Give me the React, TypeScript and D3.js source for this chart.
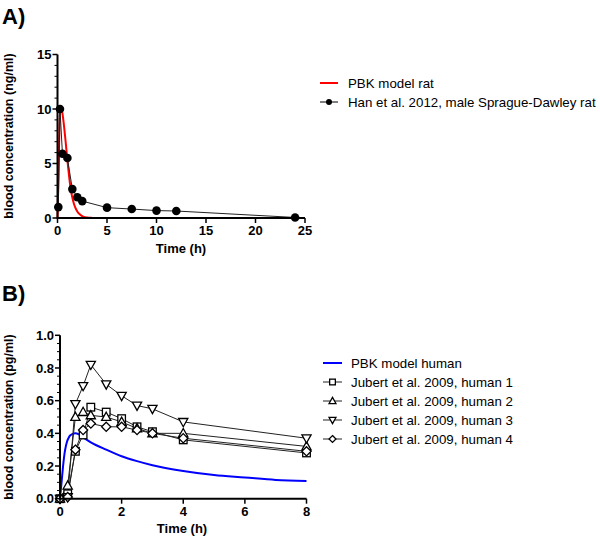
import React from "react";
import * as d3 from "d3";

// ---------- Panel A data ----------
const ratTime = [0.083, 0.25, 0.5, 1, 1.5, 2, 2.5, 5, 7.5, 10, 12, 24];
const ratConc = [1.0, 10.0, 5.9, 5.5, 2.65, 1.9, 1.55, 0.95, 0.82, 0.68, 0.64, 0.05];
const modelRatTime = [0, 0.1, 0.2, 0.3, 0.4, 0.5, 0.6, 0.8, 1.0, 1.2, 1.4, 1.6, 1.8, 2.0, 2.3, 2.6, 3.0, 3.5, 4, 25];
const modelRatConc = [0, 4, 8.5, 10, 10, 9.6, 8.9, 7.2, 5.3, 3.6, 2.3, 1.5, 0.95, 0.6, 0.3, 0.12, 0.04, 0.01, 0, 0];
const ticksA_x = [0, 5, 10, 15, 20, 25];
const ticksA_y = [0, 5, 10, 15];

// ---------- Panel B data ----------
const humanTime = [0, 0.25, 0.5, 0.75, 1, 1.5, 2, 2.5, 3, 4, 8];
const human1 = [0, 0.03, 0.29, 0.39, 0.56, 0.53, 0.49, 0.44, 0.41, 0.36, 0.28];
const human2 = [0, 0.08, 0.50, 0.53, 0.51, 0.50, 0.47, 0.43, 0.40, 0.40, 0.32];
const human3 = [0, 0.01, 0.58, 0.69, 0.82, 0.70, 0.63, 0.57, 0.55, 0.47, 0.37];
const human4 = [0, 0.01, 0.30, 0.42, 0.46, 0.44, 0.44, 0.42, 0.40, 0.37, 0.29];
const modelHumanTime = [0, 0.05, 0.1, 0.15, 0.2, 0.3, 0.4, 0.5, 0.6, 0.75, 1, 1.5, 2, 2.5, 3, 4, 5, 6, 7, 8];
const modelHumanConc = [0, 0.1, 0.2, 0.28, 0.33, 0.38, 0.395, 0.40, 0.395, 0.375, 0.345, 0.30, 0.26, 0.23, 0.205, 0.17, 0.145, 0.13, 0.115, 0.108];
const ticksB_x = [0, 2, 4, 6, 8];
const ticksB_y = [0, 0.2, 0.4, 0.6, 0.8, 1.0];
const ticksB_yLabels = ["0.0", "0.2", "0.4", "0.6", "0.8", "1.0"];

const legendA = ["PBK model rat", "Han et al. 2012, male Sprague-Dawley rat"];
const legendB = [
  "PBK model human",
  "Jubert et al. 2009, human 1",
  "Jubert et al. 2009, human 2",
  "Jubert et al. 2009, human 3",
  "Jubert et al. 2009, human 4",
];

const FONT = "Liberation Sans, Arial, sans-serif";

type Shape = "square" | "up" | "down" | "diamond";

function Marker({ x, y, shape, k = 1 }: { x: number; y: number; shape: Shape; k?: number }) {
  const s = 4.2 * k;
  const common = { fill: "white", stroke: "black", strokeWidth: 1.3 };
  if (shape === "square")
    return <rect x={x - 3.8 * k} y={y - 3.8 * k} width={7.6 * k} height={7.6 * k} {...common} />;
  if (shape === "up")
    return <path d={`M${x},${y - s - 0.6 * k}L${x + s + 0.4 * k},${y + s - 0.8 * k}L${x - s - 0.4 * k},${y + s - 0.8 * k}Z`} {...common} />;
  if (shape === "down")
    return <path d={`M${x},${y + s + 0.6 * k}L${x + s + 0.4 * k},${y - s + 0.8 * k}L${x - s - 0.4 * k},${y - s + 0.8 * k}Z`} {...common} />;
  return <path d={`M${x},${y - s - 0.4 * k}L${x + s + 0.4 * k},${y}L${x},${y + s + 0.4 * k}L${x - s - 0.4 * k},${y}Z`} {...common} />;
}

export default function App() {
  // Panel A scales
  const xA = d3.scaleLinear().domain([0, 25]).range([57.5, 305]);
  const yA = d3.scaleLinear().domain([0, 15]).range([218, 54.5]);
  // Panel B scales
  const xB = d3.scaleLinear().domain([0, 8]).range([60, 306.5]);
  const yB = d3.scaleLinear().domain([0, 1]).range([498.7, 335.3]);

  const lineA = d3
    .line<[number, number]>()
    .x((d) => xA(d[0]))
    .y((d) => yA(d[1]));
  const curveA = d3
    .line<[number, number]>()
    .x((d) => xA(d[0]))
    .y((d) => yA(d[1]))
    .curve(d3.curveMonotoneX);
  const lineB = d3
    .line<[number, number]>()
    .x((d) => xB(d[0]))
    .y((d) => yB(d[1]));
  const curveB = d3
    .line<[number, number]>()
    .x((d) => xB(d[0]))
    .y((d) => yB(d[1]))
    .curve(d3.curveMonotoneX);

  const ratPts = ratTime.map((t, i) => [t, ratConc[i]] as [number, number]);
  const modelRatPts = modelRatTime.map((t, i) => [t, modelRatConc[i]] as [number, number]);
  const modelHumanPts = modelHumanTime.map((t, i) => [t, modelHumanConc[i]] as [number, number]);
  const humans: { vals: number[]; shape: Shape }[] = [
    { vals: human1, shape: "square" },
    { vals: human2, shape: "up" },
    { vals: human3, shape: "down" },
    { vals: human4, shape: "diamond" },
  ];

  const minorA = d3.range(0, 16, 1).filter((v) => v % 5 !== 0);
  const minorB = d3.range(0, 1.0001, 0.05).filter((v) => Math.abs(v * 5 - Math.round(v * 5)) > 1e-6);

  const axisW = 2;

  return (
    <svg
      width={600}
      height={539}
      style={{ position: "absolute", left: 0, top: 0, background: "white" }}
      fontFamily={FONT}
    >
      <rect x={0} y={0} width={600} height={539} fill="white" />
      {/* Panel labels */}
      <text x={2} y={24} fontSize={22} fontWeight="bold">A)</text>
      <text x={2} y={301} fontSize={22} fontWeight="bold">B)</text>

      {/* ---------------- Panel A ---------------- */}
      <g>
        <path d={curveA(modelRatPts) || ""} fill="none" stroke="#ff0000" strokeWidth={2} />
        <path d={lineA(ratPts) || ""} fill="none" stroke="#222" strokeWidth={1} />
        {ratPts.map((p, i) => (
          <circle key={i} cx={xA(p[0])} cy={yA(p[1])} r={4.3} fill="black" />
        ))}
        <line x1={xA(0)} x2={xA(25)} y1={yA(0)} y2={yA(0)} stroke="black" strokeWidth={axisW} />
        <line x1={xA(0)} x2={xA(0)} y1={yA(0) + 1} y2={yA(15)} stroke="black" strokeWidth={axisW} />
        {ticksA_y.map((v) => (
          <g key={v}>
            <line x1={xA(0) - 5} x2={xA(0)} y1={yA(v)} y2={yA(v)} stroke="black" strokeWidth={1.5} />
            <text x={xA(0) - 6} y={yA(v)} dy="0.35em" textAnchor="end" fontSize={13} fontWeight="bold">
              {v}
            </text>
          </g>
        ))}
        {minorA.map((v) => (
          <line key={v} x1={xA(0) - 3} x2={xA(0)} y1={yA(v)} y2={yA(v)} stroke="black" strokeWidth={1} />
        ))}
        {ticksA_x.map((v) => (
          <g key={v}>
            <line x1={xA(v)} x2={xA(v)} y1={yA(0)} y2={yA(0) + 5} stroke="black" strokeWidth={1.5} />
            <text x={xA(v)} y={yA(0) + 17} textAnchor="middle" fontSize={13} fontWeight="bold">
              {v}
            </text>
          </g>
        ))}
        <text x={181} y={253} textAnchor="middle" fontSize={13} fontWeight="bold">Time (h)</text>
        <text
          transform={`translate(13,136) rotate(-90)`}
          textAnchor="middle"
          fontSize={12.5}
          fontWeight="bold"
        >
          blood concentration (ng/ml)
        </text>
        <line x1={320} x2={338} y1={83} y2={83} stroke="#ff0000" strokeWidth={2} />
        <text x={348} y={83} dy="0.35em" fontSize={13.3}>{legendA[0]}</text>
        <line x1={320} x2={338} y1={102} y2={102} stroke="black" strokeWidth={1} />
        <circle cx={329} cy={102} r={3} fill="black" />
        <text x={348} y={102} dy="0.35em" fontSize={13.3}>{legendA[1]}</text>
      </g>

      {/* ---------------- Panel B ---------------- */}
      <g>
        <path d={curveB(modelHumanPts) || ""} fill="none" stroke="#0000ff" strokeWidth={2} />
        {humans.map((h, hi) => {
          const pts = humanTime.map((t, i) => [t, h.vals[i]] as [number, number]);
          return <path key={hi} d={lineB(pts) || ""} fill="none" stroke="#222" strokeWidth={1} />;
        })}
        {humans.map((h, hi) => (
          <g key={hi}>
            {humanTime.map((t, i) => (
              <Marker key={i} x={xB(t)} y={yB(h.vals[i])} shape={h.shape} />
            ))}
          </g>
        ))}
        <line x1={xB(0)} x2={xB(8)} y1={yB(0)} y2={yB(0)} stroke="black" strokeWidth={axisW} />
        <line x1={xB(0)} x2={xB(0)} y1={yB(0) + 1} y2={yB(1)} stroke="black" strokeWidth={axisW} />
        {ticksB_y.map((v, i) => (
          <g key={v}>
            <line x1={xB(0) - 5} x2={xB(0)} y1={yB(v)} y2={yB(v)} stroke="black" strokeWidth={1.5} />
            <text x={xB(0) - 6} y={yB(v)} dy="0.35em" textAnchor="end" fontSize={13} fontWeight="bold">
              {ticksB_yLabels[i]}
            </text>
          </g>
        ))}
        {minorB.map((v) => (
          <line key={v} x1={xB(0) - 3} x2={xB(0)} y1={yB(v)} y2={yB(v)} stroke="black" strokeWidth={1} />
        ))}
        {ticksB_x.map((v) => (
          <g key={v}>
            <line x1={xB(v)} x2={xB(v)} y1={yB(0)} y2={yB(0) + 5} stroke="black" strokeWidth={1.5} />
            <text x={xB(v)} y={yB(0) + 17} textAnchor="middle" fontSize={13} fontWeight="bold">
              {v}
            </text>
          </g>
        ))}
        <text x={182} y={533} textAnchor="middle" fontSize={13} fontWeight="bold">Time (h)</text>
        <text
          transform={`translate(13,417) rotate(-90)`}
          textAnchor="middle"
          fontSize={12.5}
          fontWeight="bold"
        >
          blood concentration (pg/ml)
        </text>
        {legendB.map((label, i) => {
          const y = 363 + i * 19;
          return (
            <g key={i}>
              {i === 0 ? (
                <line x1={323} x2={342} y1={y} y2={y} stroke="#0000ff" strokeWidth={2} />
              ) : (
                <>
                  <line x1={323} x2={342} y1={y} y2={y} stroke="#222" strokeWidth={1} />
                  <Marker x={332.5} y={y} shape={humans[i - 1].shape} k={0.75} />
                </>
              )}
              <text x={351} y={y} dy="0.35em" fontSize={13.3}>{label}</text>
            </g>
          );
        })}
      </g>
    </svg>
  );
}
